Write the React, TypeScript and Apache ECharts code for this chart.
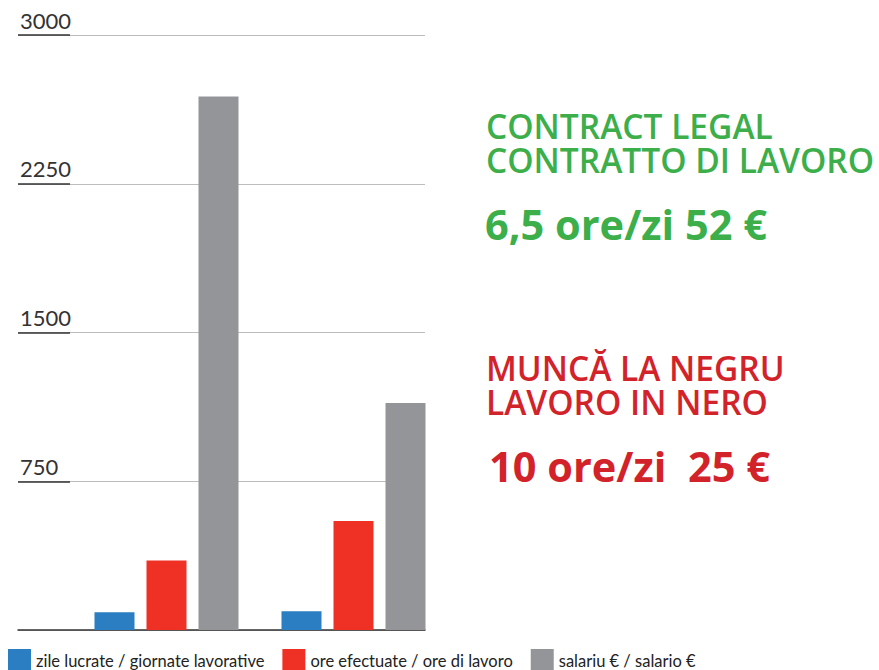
import React, { useEffect, useRef } from "react";
import * as echarts from "echarts";

const categories = ["contract legal", "muncă la negru"];
const seriesNames = [
  "zile lucrate / giornate lavorative",
  "ore efectuate / ore di lavoro",
  "salariu € / salario €",
];
const zileValues = [90, 95];
const oreValues = [350, 550];
const salariuValues = [2690, 1145];
const yTicks = { min: 0, max: 3000, interval: 750 };

const greenLines = ["CONTRACT LEGAL", "CONTRATTO DI LAVORO"];
const greenBig = "6,5 ore/zi 52 €";
const redLines = ["MUNCĂ LA NEGRU", "LAVORO IN NERO"];
const redBig = "10 ore/zi  25 €";

const BLUE = "#2b7ec1";
const RED = "#ee3124";
const GRAY = "#939598";
const GREEN = "#3cae4a";
const DARKRED = "#d2232a";
const FONT = "Lato";
const HFONT = "'Open Sans'";

export default function App() {
  const ref = useRef<HTMLDivElement>(null);
  useEffect(() => {
    if (!ref.current) return;
    const chart = echarts.init(ref.current, null, { renderer: "svg" });
    const bar = (name: string, data: number[], color: string) => ({
      name,
      type: "bar",
      xAxisIndex: 1,
      yAxisIndex: 1,
      data,
      barWidth: 40,
      barGap: "30%",
      itemStyle: { color },
    });
    chart.setOption({
      animation: false,
      backgroundColor: "#ffffff",
      textStyle: { fontFamily: FONT },
      grid: [
        { left: 18, top: 35, width: 407, height: 595 },
        { left: 73, top: 35, width: 374, height: 595 },
      ],
      xAxis: [
        {
          gridIndex: 0,
          type: "value",
          min: 0,
          max: 1,
          axisLine: { show: true, lineStyle: { color: "#333333", width: 1.5 } },
          axisTick: { show: false },
          axisLabel: { show: false },
          splitLine: { show: false },
        },
        {
          gridIndex: 1,
          type: "category",
          data: categories,
          show: false,
        },
      ],
      yAxis: [
        {
          gridIndex: 0,
          type: "value",
          min: yTicks.min,
          max: yTicks.max,
          interval: yTicks.interval,
          axisLine: { show: false },
          axisTick: {
            show: true,
            inside: true,
            length: 52,
            lineStyle: { color: "#333333", width: 1.5 },
          },
          axisLabel: {
            inside: true,
            verticalAlign: "bottom",
            margin: 2,
            padding: [0, 0, 4, 0],
            showMinLabel: false,
            formatter: (v: number) => String(v),
            color: "#333333",
            fontSize: 22,
            fontFamily: FONT,
          },
          splitLine: { show: true, lineStyle: { color: "#bdbdbd", width: 1 } },
        },
        {
          gridIndex: 1,
          type: "value",
          min: yTicks.min,
          max: yTicks.max,
          interval: yTicks.interval,
          show: false,
          splitLine: { show: false },
        },
      ],
      legend: {
        left: 8,
        top: 649,
        padding: 0,
        itemWidth: 23,
        itemHeight: 23,
        itemGap: 18,
        icon: "rect",
        data: seriesNames,
        textStyle: { fontSize: 16.5, color: "#222222", fontFamily: FONT },
      },
      series: [
        bar(seriesNames[0], zileValues, BLUE),
        bar(seriesNames[1], oreValues, RED),
        bar(seriesNames[2], salariuValues, GRAY),
      ],
      graphic: [
        {
          type: "text",
          x: 486,
          y: 142.5,
          style: {
            text: greenLines.join("\n"),
            fill: GREEN,
            font: `600 33.5px ${HFONT}`,
            lineHeight: 34,
            verticalAlign: "middle",
          },
        },
        {
          type: "text",
          x: 485,
          y: 224,
          style: { text: greenBig, fill: GREEN, font: `bold 41.5px ${HFONT}`, verticalAlign: "middle" },
        },
        {
          type: "text",
          x: 486,
          y: 385,
          style: {
            text: redLines.join("\n"),
            fill: DARKRED,
            font: `600 33.5px ${HFONT}`,
            lineHeight: 34,
            verticalAlign: "middle",
          },
        },
        {
          type: "text",
          x: 489,
          y: 466,
          style: { text: redBig, fill: DARKRED, font: `bold 41.5px ${HFONT}`, verticalAlign: "middle" },
        },
      ],
    });
    return () => chart.dispose();
  }, []);
  return (
    <div
      ref={ref}
      style={{ position: "fixed", left: 0, top: 0, width: 879, height: 670 }}
    />
  );
}
